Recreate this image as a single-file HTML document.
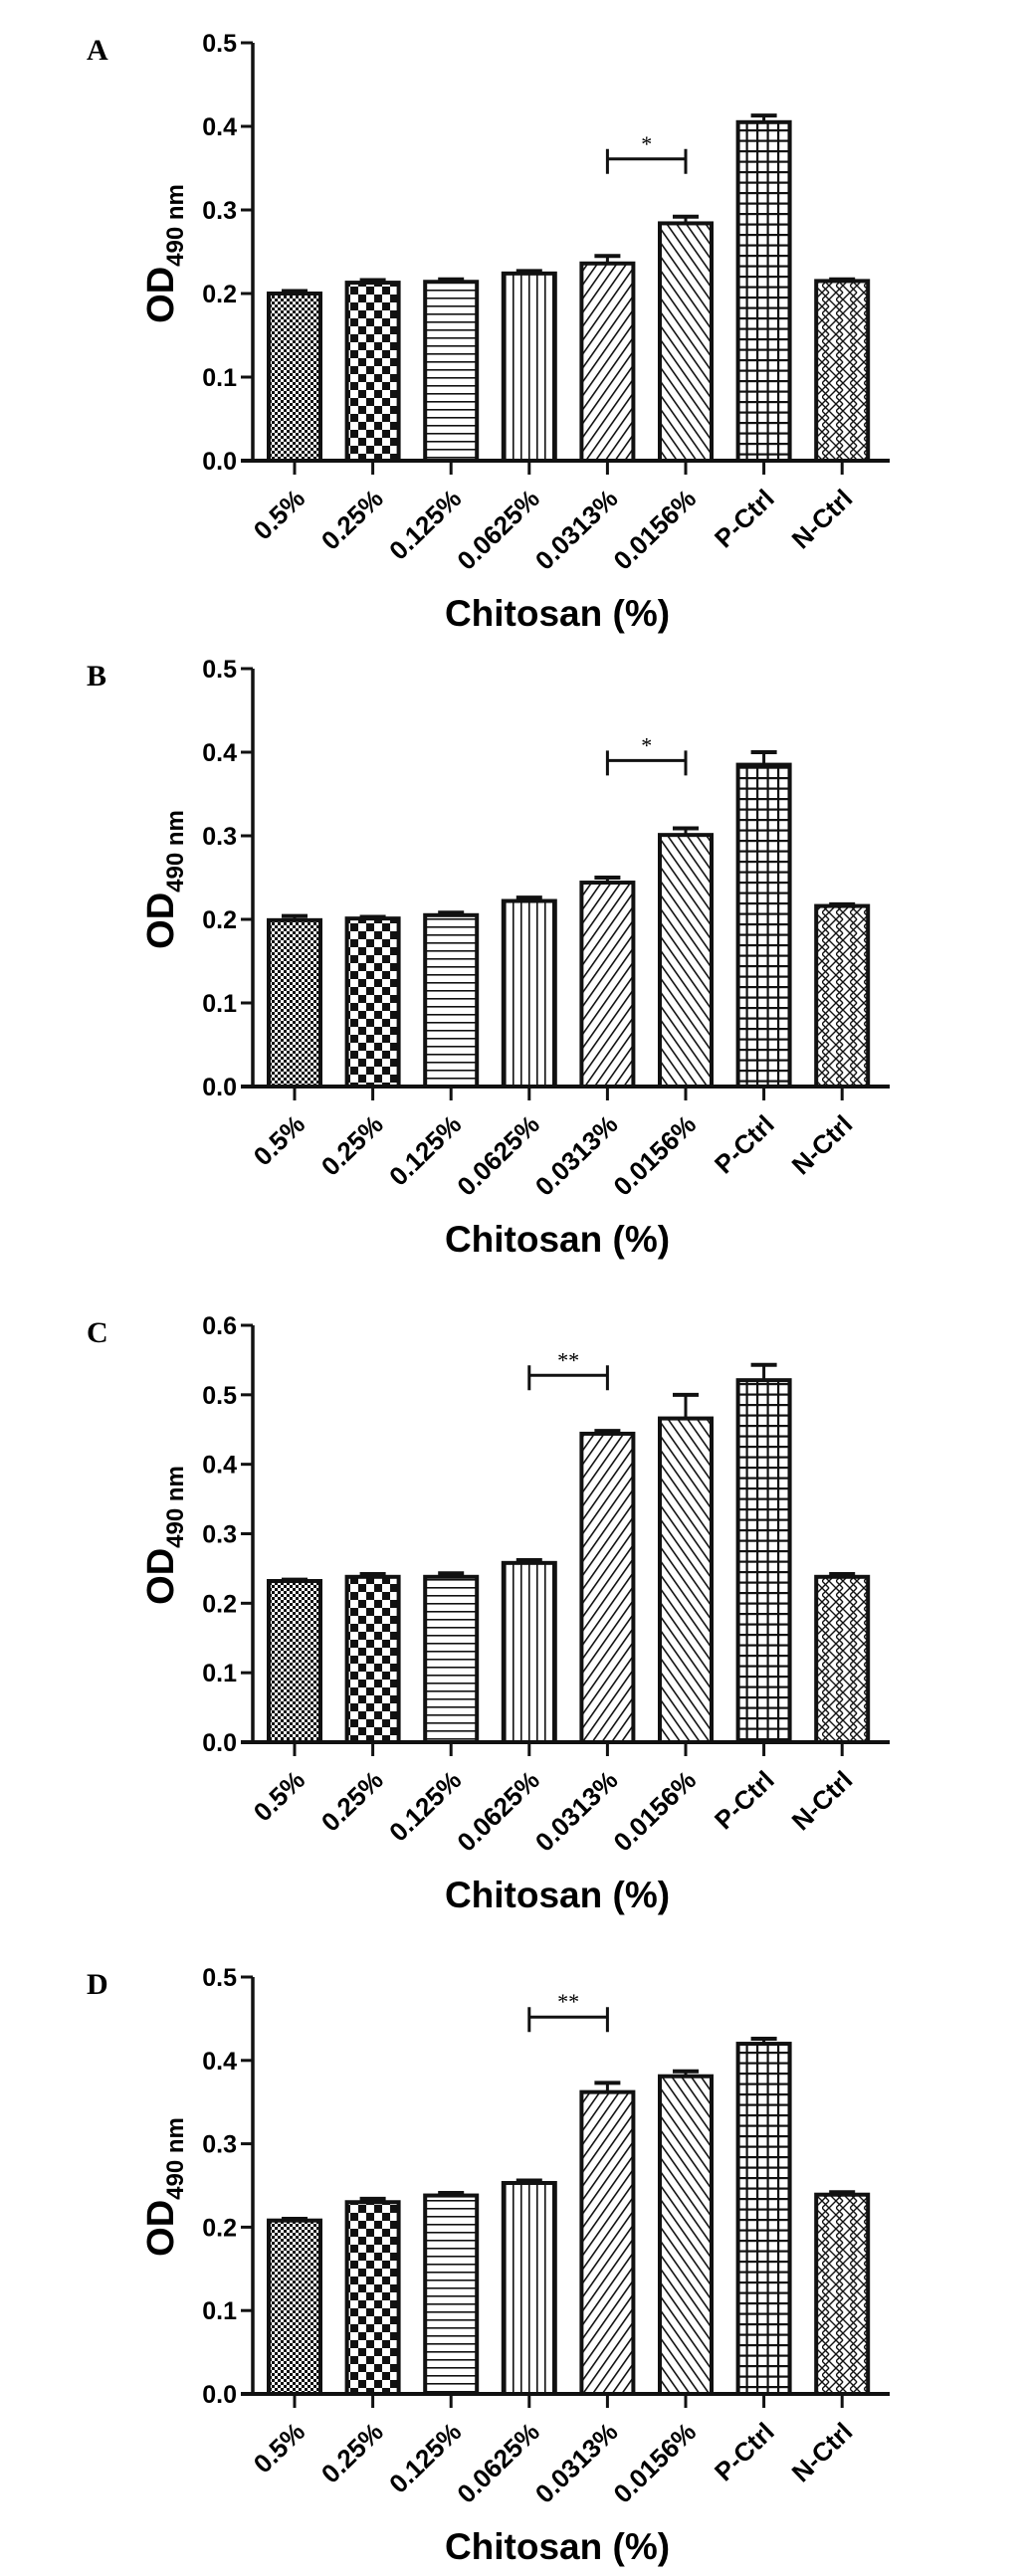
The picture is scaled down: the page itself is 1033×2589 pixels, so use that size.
<!DOCTYPE html>
<html><head><meta charset="utf-8">
<style>
html,body{margin:0;padding:0;background:#fff;}
svg{display:block;}
text{font-family:"Liberation Sans",sans-serif;}
</style></head>
<body>
<svg id="fig" width="1033" height="2589" viewBox="0 0 1033 2589" xmlns="http://www.w3.org/2000/svg">
<defs>
<pattern id="p0" patternUnits="userSpaceOnUse" width="6" height="6"><rect width="6" height="6" fill="#fff"/><rect width="3" height="3" fill="#111"/><rect x="3" y="3" width="3" height="3" fill="#111"/></pattern>
<pattern id="p1" patternUnits="userSpaceOnUse" width="16" height="16"><rect width="16" height="16" fill="#fff"/><rect width="8" height="8" fill="#111"/><rect x="8" y="8" width="8" height="8" fill="#111"/></pattern>
<pattern id="p2" patternUnits="userSpaceOnUse" width="8" height="8"><rect width="8" height="8" fill="#fff"/><rect y="3" width="8" height="1.6" fill="#111"/></pattern>
<pattern id="p3" patternUnits="userSpaceOnUse" width="8" height="8"><rect width="8" height="8" fill="#fff"/><rect x="3" width="1.6" height="8" fill="#111"/></pattern>
<pattern id="p4" patternUnits="userSpaceOnUse" width="8" height="8" patternTransform="rotate(35)"><rect width="8" height="8" fill="#fff"/><rect x="3" width="1.6" height="8" fill="#111"/></pattern>
<pattern id="p5" patternUnits="userSpaceOnUse" width="8" height="8" patternTransform="rotate(-35)"><rect width="8" height="8" fill="#fff"/><rect x="3" width="1.6" height="8" fill="#111"/></pattern>
<pattern id="p6" patternUnits="userSpaceOnUse" width="10.5" height="10.5"><rect width="10.5" height="10.5" fill="#fff"/><rect x="4" width="2.2" height="10.5" fill="#111"/><rect y="4" width="10.5" height="2.2" fill="#111"/></pattern>
<pattern id="p7" patternUnits="userSpaceOnUse" width="14" height="14"><rect width="14" height="14" fill="#fff"/><path d="M0 0 L7 7 L14 0 M0 14 L7 7 M7 7 L14 14 M0 7 L7 14 M7 0 L0 7" stroke="#111" stroke-width="1.4" fill="none"/></pattern>
</defs>
</svg>
<script>
const categories = ["0.5%","0.25%","0.125%","0.0625%","0.0313%","0.0156%","P-Ctrl","N-Ctrl"];
const valuesA = [0.200,0.213,0.214,0.224,0.236,0.284,0.405,0.215];
const errorsA = [0.003,0.003,0.003,0.003,0.009,0.008,0.008,0.002];
const valuesB = [0.199,0.201,0.205,0.222,0.244,0.301,0.385,0.216];
const errorsB = [0.005,0.002,0.003,0.004,0.006,0.008,0.015,0.002];
const valuesC = [0.232,0.238,0.238,0.258,0.444,0.466,0.521,0.238];
const errorsC = [0.002,0.004,0.005,0.004,0.004,0.034,0.022,0.004];
const valuesD = [0.208,0.230,0.238,0.253,0.362,0.381,0.420,0.239];
const errorsD = [0.002,0.004,0.003,0.003,0.011,0.006,0.006,0.003];
const ticksAB = ["0.0","0.1","0.2","0.3","0.4","0.5"];
const ticksC = ["0.0","0.1","0.2","0.3","0.4","0.5","0.6"];
const panelLetters = ["A","B","C","D"];
const sigLabels = ["*","*","**","**"];
const sigFrom = [4,4,3,3];
const sigValue = [0.361,0.39,0.528,0.452];

const NS="http://www.w3.org/2000/svg";
const svg=document.getElementById('fig');
function mk(tag,attrs,parent){const e=document.createElementNS(NS,tag);for(const k in attrs)e.setAttribute(k,attrs[k]);(parent||svg).appendChild(e);return e;}

const panels=[
 {base:463,top:43,max:0.5,vals:valuesA,errs:errorsA,ticks:ticksAB},
 {base:1092,top:672,max:0.5,vals:valuesB,errs:errorsB,ticks:ticksAB},
 {base:1751,top:1332,max:0.6,vals:valuesC,errs:errorsC,ticks:ticksC},
 {base:2406,top:1987,max:0.5,vals:valuesD,errs:errorsD,ticks:ticksAB}
];
const AX=254, X0=296, DX=78.6, BW=52;
function xc(i){return X0+i*DX;}

panels.forEach((p,pi)=>{
 const g=mk('g',{});
 
 
 const y=v=>p.base-(v/p.max)*(p.base-p.top);
 const lt=mk('text',{x:87,y:p.top+17,'font-size':30,'font-weight':'bold',style:'font-family:"Liberation Serif",serif'},g);
 lt.textContent=panelLetters[pi];
 
 
 p.vals.forEach((v,i)=>{
  const top=y(v), et=y(v+p.errs[i]);
  const el=mk('line',{x1:xc(i),x2:xc(i),y1:top,y2:et,stroke:'#111','stroke-width':3},g);
  
  
  const ec=mk('line',{x1:xc(i)-13,x2:xc(i)+13,y1:et,y2:et,stroke:'#111','stroke-width':4},g);
  
  
  const r=mk('rect',{x:xc(i)-BW/2,y:top,width:BW,height:p.base-top,fill:'url(#p'+i+')',stroke:'#111','stroke-width':4},g);
  
  
  const tk=mk('line',{x1:xc(i),x2:xc(i),y1:p.base,y2:p.base+14,stroke:'#111','stroke-width':3},g);
  
  
  const tx=xc(i)+12, ty=p.base+40;
  const t=mk('text',{x:tx,y:ty,'font-size':26,'font-weight':'bold','text-anchor':'end',transform:'rotate(-44 '+tx+' '+ty+')'},g);
  t.textContent=categories[i];
  
  
 });
 const ya=mk('line',{x1:AX,x2:AX,y1:p.top,y2:p.base,stroke:'#111','stroke-width':3.5},g);
 
 
 const xa=mk('line',{x1:242,x2:894,y1:p.base,y2:p.base,stroke:'#111','stroke-width':4},g);
 
 
 p.ticks.forEach((lab,k)=>{
  const yy=y(parseFloat(lab));
  const tk=mk('line',{x1:242,x2:AX,y1:yy,y2:yy,stroke:'#111','stroke-width':3},g);
  
  
  const t=mk('text',{x:238,y:yy+9,'font-size':25,'font-weight':'bold','text-anchor':'end'},g);
  t.textContent=lab;
  
  
 });
 const cy=p.base-208;
 const yt=mk('text',{x:0,y:0,'font-size':38,'font-weight':'bold','text-anchor':'middle',transform:'translate(174 '+cy+') rotate(-90)'},g);
 
 
 const s1=mk('tspan',{},yt); s1.textContent='OD';
 const s2=mk('tspan',{'font-size':24,dy:10},yt); s2.textContent='490 nm';
 const xt=mk('text',{x:560,y:p.base+166,'font-size':37,'font-weight':'bold','text-anchor':'middle'},g);
 xt.textContent='Chitosan (%)';
 
 
 const a=xc(sigFrom[pi]), b=xc(sigFrom[pi]+1), sy=y(sigValue[pi]);
 const sg=mk('path',{d:'M'+a+' '+(sy-10)+' V'+(sy+15)+' M'+a+' '+sy+' H'+b+' M'+b+' '+(sy-10)+' V'+(sy+15),stroke:'#111','stroke-width':3,fill:'none'},g);
 
 
 const st=mk('text',{x:(a+b)/2,y:sy-8,'font-size':22,'text-anchor':'middle',style:'font-family:"Liberation Serif",serif'},g);
 st.textContent=sigLabels[pi];
 
 
});
</script>
</body></html>
